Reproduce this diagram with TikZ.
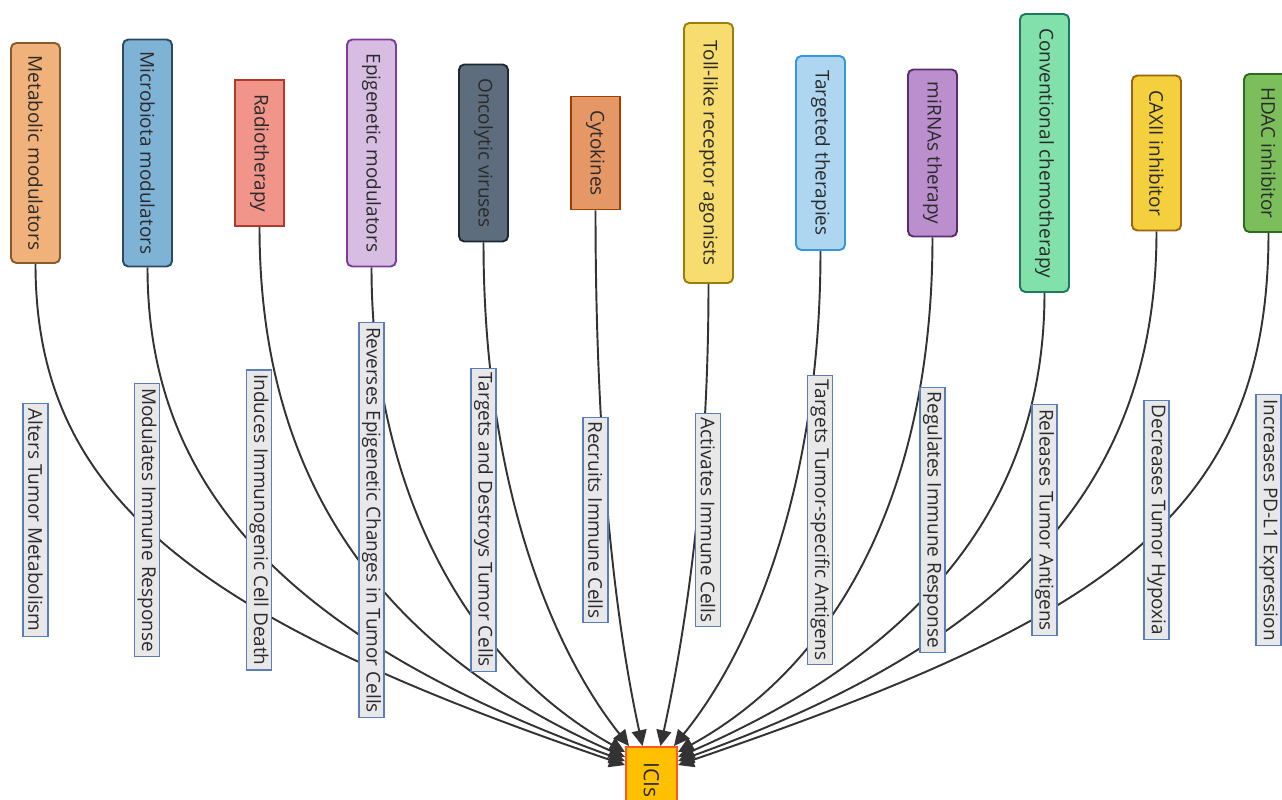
\documentclass[tikz,border=0pt]{standalone}
\usepackage{fontspec}
\setmainfont{Open Sans}
\usepackage{graphicx}
\usetikzlibrary{arrows.meta,backgrounds}

\definecolor{textgray}{HTML}{2A2A2A}
\definecolor{linkgray}{HTML}{333333}
\definecolor{lblgray}{HTML}{E8E8E8}
\definecolor{lblblue}{HTML}{5B7DB8}
\definecolor{metafill}{HTML}{F0B27A}    \definecolor{metaline}{HTML}{8B5A2B}
\definecolor{microfill}{HTML}{7FB3D5}   \definecolor{microline}{HTML}{2C4A63}
\definecolor{radiofill}{HTML}{F1948A}   \definecolor{radioline}{HTML}{B03A2E}
\definecolor{epifill}{HTML}{D7BDE2}     \definecolor{epiline}{HTML}{7D3C98}
\definecolor{oncofill}{HTML}{5D6D7E}    \definecolor{oncoline}{HTML}{1C2833}
\definecolor{cytofill}{HTML}{E59866}    \definecolor{cytoline}{HTML}{A04000}
\definecolor{tollfill}{HTML}{F7DC6F}    \definecolor{tollline}{HTML}{9A7D0A}
\definecolor{targetfill}{HTML}{AED6F1}  \definecolor{targetline}{HTML}{3498DB}
\definecolor{mirnafill}{HTML}{BB8FCE}   \definecolor{mirnaline}{HTML}{5B2C6F}
\definecolor{chemofill}{HTML}{82E0AA}   \definecolor{chemoline}{HTML}{1E7A5A}
\definecolor{caxiifill}{HTML}{F4D03F}   \definecolor{caxiiline}{HTML}{9C640C}
\definecolor{hdacfill}{HTML}{7DBE5C}    \definecolor{hdacline}{HTML}{2E6B1F}
\definecolor{icisfill}{HTML}{FFC000}    \definecolor{icisline}{HTML}{FF5722}

\begin{document}
\begin{tikzpicture}[x=0.02cm,y=-0.02cm,
  box/.style={draw, line width=1.1pt, rounded corners=3pt, minimum width=0.98cm,
    inner sep=0pt, text=textgray, font=\fontsize{10.8}{13}\selectfont},
  effect/.style={draw=lblblue, fill=lblgray, line width=0.6pt, minimum width=0.5cm,
    inner xsep=0pt, inner ysep=2.5pt, text=textgray, font=\fontsize{10.8}{13}\selectfont},
  link/.style={draw=linkgray, line width=1.1pt, -{Triangle[length=9pt,width=8.5pt]}}]
  \useasboundingbox (0,0) rectangle (1282,800);

  % Draw the treatments
  \node[box, fill=metafill, draw=metaline, minimum height=4.40cm] (meta) at (35.5,153) {\rotatebox{-90}{Metabolic modulators}};
  \node[box, fill=microfill, draw=microline, minimum height=4.54cm] (micro) at (147.5,153) {\rotatebox{-90}{Microbiota modulators}};
  \node[box, fill=radiofill, draw=radioline, minimum height=2.92cm, sharp corners] (radio) at (259.5,153) {\rotatebox{-90}{Radiotherapy}};
  \node[box, fill=epifill, draw=epiline, minimum height=4.54cm] (epi) at (371.5,153) {\rotatebox{-90}{Epigenetic modulators}};
  \node[box, fill=oncofill, draw=oncoline, minimum height=3.54cm] (onco) at (483.5,153) {\rotatebox{-90}{Oncolytic viruses}};
  \node[box, fill=cytofill, draw=cytoline, minimum height=2.26cm, sharp corners] (cyto) at (595.5,153) {\rotatebox{-90}{Cytokines}};
  \node[box, fill=tollfill, draw=tollline, minimum height=5.20cm] (toll) at (708.5,153) {\rotatebox{-90}{Toll-like receptor agonists}};
  \node[box, fill=targetfill, draw=targetline, minimum height=3.88cm] (target) at (820.5,153) {\rotatebox{-90}{Targeted therapies}};
  \node[box, fill=mirnafill, draw=mirnaline, minimum height=3.34cm] (mirna) at (932.5,153) {\rotatebox{-90}{miRNAs therapy}};
  \node[box, fill=chemofill, draw=chemoline, minimum height=5.56cm] (chemo) at (1044.5,153) {\rotatebox{-90}{Conventional chemotherapy}};
  \node[box, fill=caxiifill, draw=caxiiline, minimum height=3.10cm] (caxii) at (1156.5,153) {\rotatebox{-90}{CAXII inhibitor}};
  \node[box, fill=hdacfill, draw=hdacline, minimum height=3.16cm] (hdac) at (1268.5,153) {\rotatebox{-90}{HDAC inhibitor}};

  % Draw the target
  \node[box, fill=icisfill, draw=icisline, minimum width=1.02cm, minimum height=1.32cm, sharp corners,
    font=\fontsize{12}{14}\selectfont] (icis) at (651.5,780) {\rotatebox{-90}{ICIs}};

  % Add labels
  \node[effect] (l1) at (35.5,520) {\rotatebox{-90}{Alters Tumor Metabolism}};
  \node[effect] (l2) at (147,520) {\rotatebox{-90}{Modulates Immune Response}};
  \node[effect] (l3) at (259,520) {\rotatebox{-90}{Induces Immunogenic Cell Death}};
  \node[effect] (l4) at (371.5,520) {\rotatebox{-90}{Reverses Epigenetic Changes in Tumor Cells}};
  \node[effect] (l5) at (483.5,520) {\rotatebox{-90}{Targets and Destroys Tumor Cells}};
  \node[effect] (l6) at (595.5,520) {\rotatebox{-90}{Recruits Immune Cells}};
  \node[effect] (l7) at (708,520) {\rotatebox{-90}{Activates Immune Cells}};
  \node[effect] (l8) at (820,520) {\rotatebox{-90}{Targets Tumor-specific Antigens}};
  \node[effect] (l9) at (932.5,520) {\rotatebox{-90}{Regulates Immune Response}};
  \node[effect] (l10) at (1044.5,520) {\rotatebox{-90}{Releases Tumor Antigens}};
  \node[effect] (l11) at (1156.5,520) {\rotatebox{-90}{Decreases Tumor Hypoxia}};
  \node[effect] (l12) at (1268.5,520) {\rotatebox{-90}{Increases PD-L1 Expression}};

  % Draw the links
  \begin{scope}[on background layer]
    \draw[link] (meta.south) .. controls (35.5,500) and (200,620) .. ([yshift=-0.38cm]icis.north west);
    \draw[link] (micro.south) .. controls (147.5,490) and (290,640) .. ([yshift=-0.30cm]icis.north west);
    \draw[link] (radio.south) .. controls (259.5,480) and (380,650) .. ([yshift=-0.22cm]icis.north west);
    \draw[link] (epi.south) .. controls (371.5,480) and (460,660) .. ([yshift=-0.12cm]icis.north west);
    \draw[link] (onco.south) .. controls (483.5,470) and (545,640) .. ([xshift=0.08cm]icis.north west);
    \draw[link] (cyto.south) .. controls (595.5,450) and (615,620) .. ([xshift=-0.18cm]icis.north);
    \draw[link] (toll.south) .. controls (708.5,470) and (688,620) .. ([xshift=0.18cm]icis.north);
    \draw[link] (target.south) .. controls (820.5,470) and (760,640) .. ([xshift=-0.08cm]icis.north east);
    \draw[link] (mirna.south) .. controls (932.5,480) and (845,660) .. ([yshift=-0.12cm]icis.north east);
    \draw[link] (chemo.south) .. controls (1044.5,500) and (925,650) .. ([yshift=-0.22cm]icis.north east);
    \draw[link] (caxii.south) .. controls (1156.5,480) and (1015,640) .. ([yshift=-0.30cm]icis.north east);
    \draw[link] (hdac.south) .. controls (1268.5,520) and (1100,620) .. ([yshift=-0.38cm]icis.north east);
  \end{scope}
\end{tikzpicture}
\end{document}
